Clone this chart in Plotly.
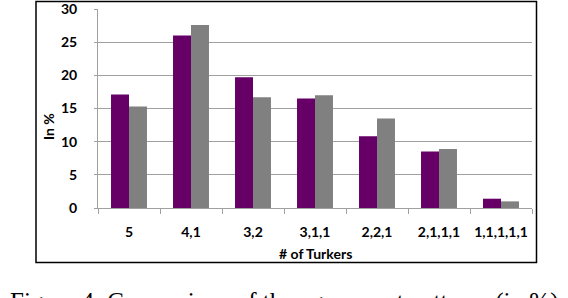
import plotly.graph_objects as go

categories = ["5", "4,1", "3,2", "3,1,1", "2,2,1", "2,1,1,1", "1,1,1,1,1"]
series_a = [17.1, 26.0, 19.7, 16.5, 10.8, 8.5, 1.4]
series_b = [15.3, 27.6, 16.7, 17.0, 13.5, 8.9, 1.0]
y_ticks = [0, 5, 10, 15, 20, 25, 30]

W, H = 568, 298
L, R, T, B = 98, 36, 9, 90
pw, ph = W - L - R, H - T - B

def px(x):
    return (x - L) / pw

def py(y):
    return (H - B - y) / ph

font = dict(family="Lato", size=14, color="#000000", weight="bold")

fig = go.Figure()
fig.add_trace(go.Bar(x=categories, y=series_a, marker=dict(color="#660066", line=dict(width=0))))
fig.add_trace(go.Bar(x=categories, y=series_b, marker=dict(color="#808080", line=dict(width=0))))

fig.update_layout(
    width=W, height=H,
    margin=dict(l=L, r=R, t=T, b=B, pad=0, autoexpand=False),
    paper_bgcolor="white", plot_bgcolor="white",
    barmode="group", bargap=0.42, bargroupgap=0,
    showlegend=False,
    font=font,
    xaxis=dict(
        automargin=False, tickangle=0, ticklabeloverflow="allow",
        showgrid=False, showline=True, linecolor="#A0A0A0", linewidth=1,
        ticks="outside", tickson="boundaries", ticklen=5, tickcolor="#A0A0A0",
        tickfont=font, ticklabelstandoff=11,
    ),
    yaxis=dict(
        automargin=False, ticklabeloverflow="allow",
        range=[0, 30], tickvals=y_ticks, showgrid=True, gridcolor="#A0A0A0", gridwidth=1,
        showline=True, linecolor="#A0A0A0", linewidth=1, zeroline=False,
        ticks="outside", ticklen=3, tickcolor="#A0A0A0",
        tickfont=font, ticklabelstandoff=14,
    ),
)

fig.add_shape(type="rect", xref="paper", yref="paper",
              x0=px(36), x1=px(536.5), y0=py(262.5), y1=py(1.5),
              line=dict(color="#000000", width=1.5), fillcolor="rgba(0,0,0,0)", layer="above")

fig.add_annotation(text="In %", xref="paper", yref="paper", x=px(48), y=py(127),
                   showarrow=False, textangle=-90, font=font, xanchor="center", yanchor="middle")
fig.add_annotation(text="# of Turkers", xref="paper", yref="paper", x=px(315), y=py(253),
                   showarrow=False, font=font, xanchor="center", yanchor="middle")
fig.add_annotation(text="Figure 4: Comparison of the agreement patterns (in %)",
                   xref="paper", yref="paper", x=px(284), y=py(286),
                   showarrow=False, xanchor="center", yanchor="top",
                   font=dict(family="Liberation Serif", size=25, color="#000000", weight="normal"))

fig.write_html("out.html", config={"displayModeBar": False},
               post_script="document.body.style.margin='0';document.body.style.overflow='hidden';")
